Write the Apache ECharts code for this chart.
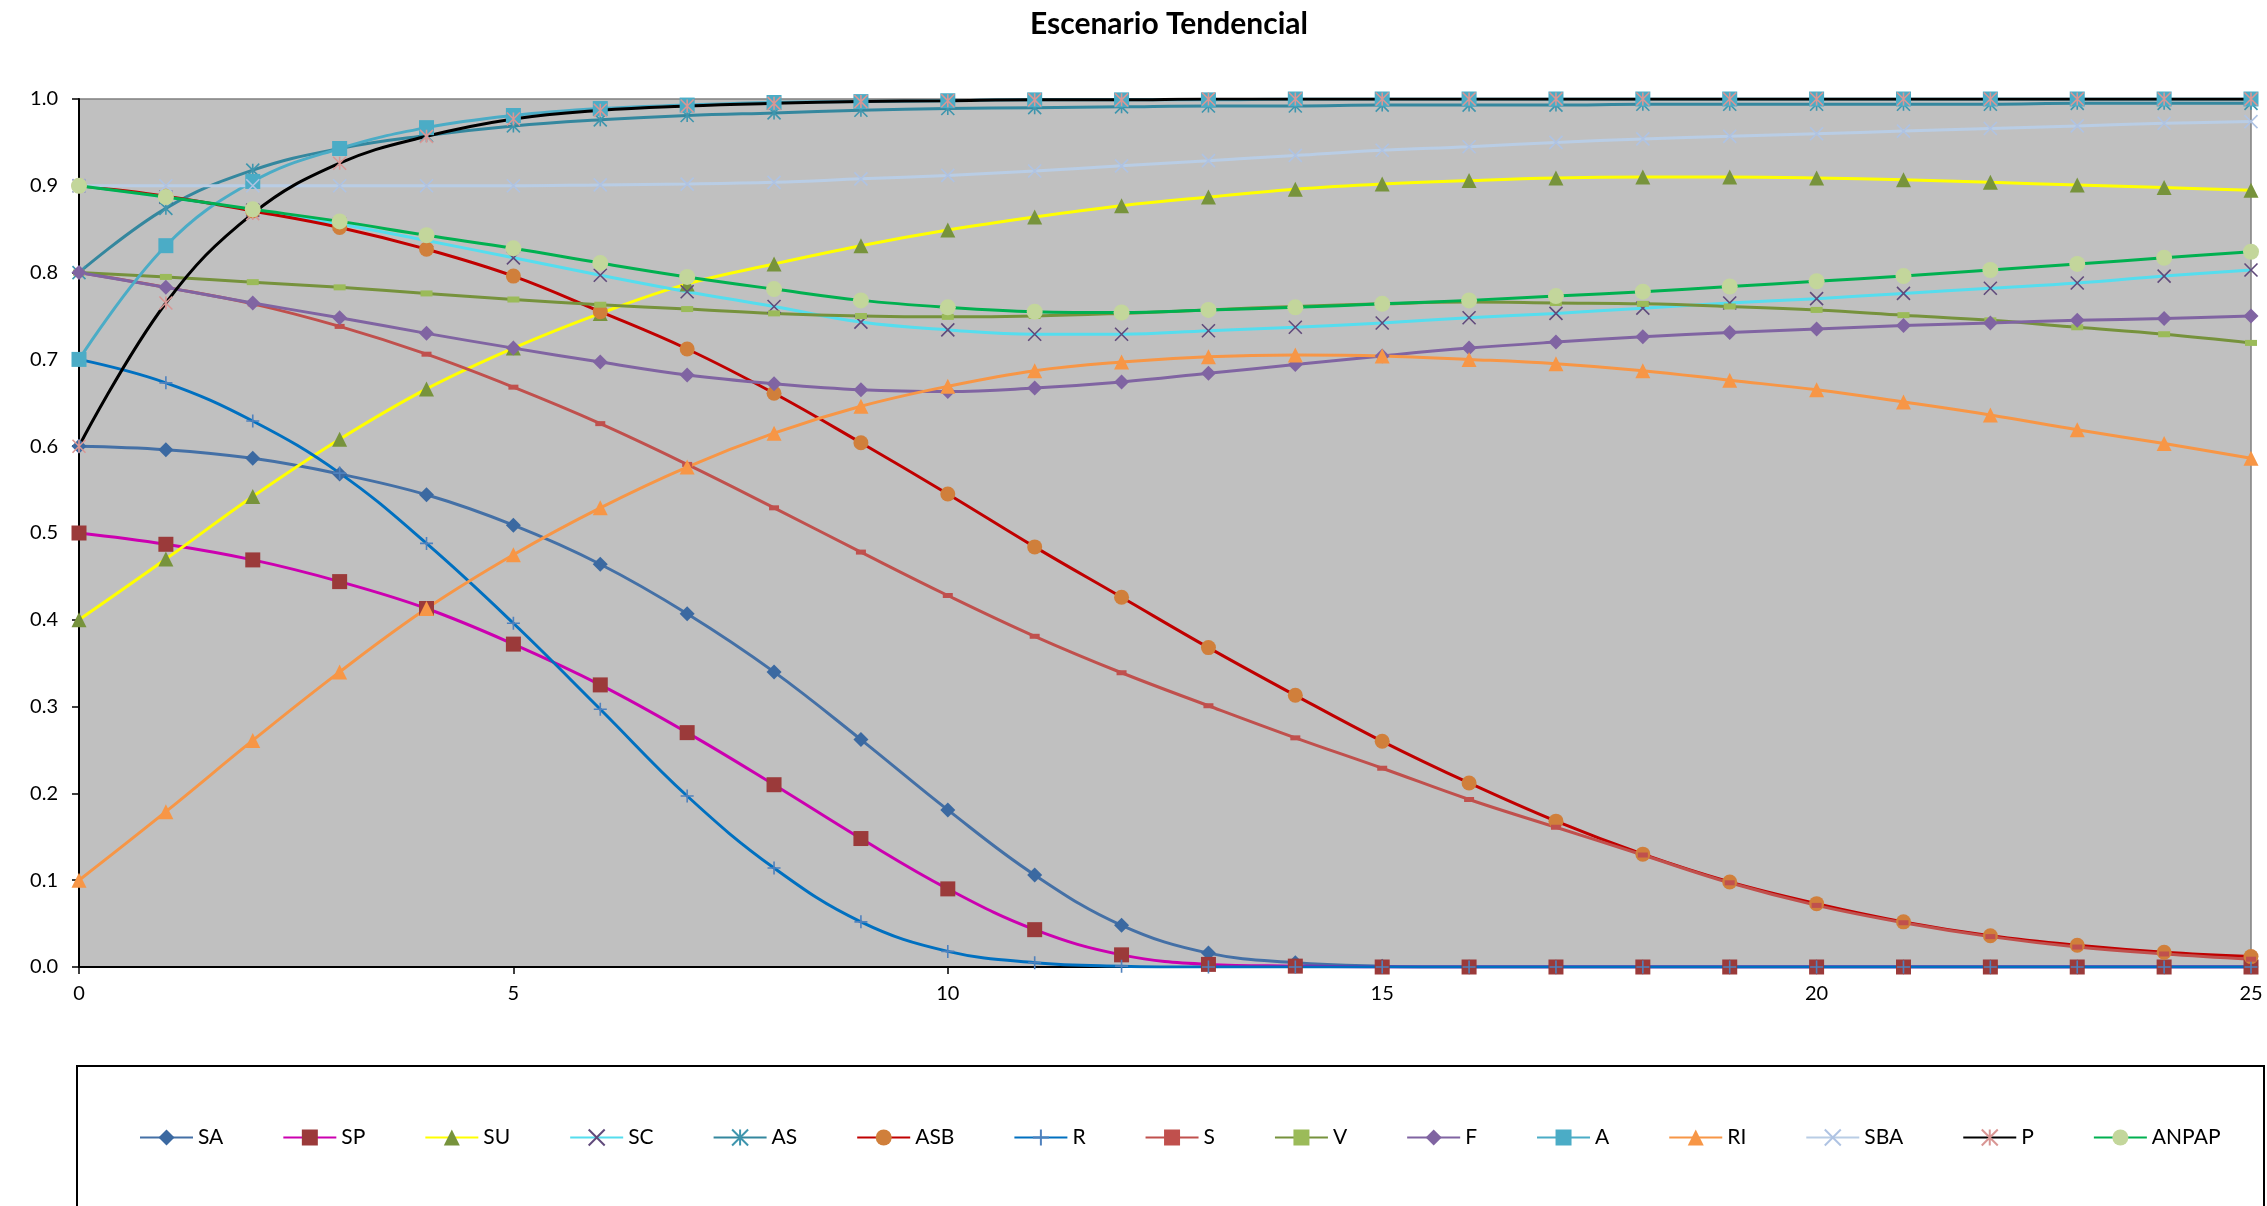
<!DOCTYPE html>
<html>
<head>
<meta charset="utf-8">
<title>Escenario Tendencial</title>
<script src="https://cdn.jsdelivr.net/npm/echarts@6/dist/echarts.min.js"></script>
<style>
  html, body { margin: 0; padding: 0; background: #ffffff; }
  #chart { width: 2267px; height: 1206px; }
</style>
</head>
<body>
<div id="chart"></div>
<script>
// Time steps (horizontal axis)
const steps = [0, 1, 2, 3, 4, 5, 6, 7, 8, 9, 10, 11, 12, 13, 14, 15, 16, 17, 18, 19, 20, 21, 22, 23, 24, 25];

// Series values, one per time step
const SA    = [0.600, 0.596, 0.586, 0.568, 0.544, 0.509, 0.464, 0.407, 0.340, 0.262, 0.181, 0.106, 0.048, 0.016, 0.005, 0.001, 0, 0, 0, 0, 0, 0, 0, 0, 0, 0];
const SP    = [0.500, 0.487, 0.469, 0.444, 0.413, 0.372, 0.325, 0.270, 0.210, 0.148, 0.090, 0.043, 0.014, 0.003, 0.001, 0, 0, 0, 0, 0, 0, 0, 0, 0, 0, 0];
const SU    = [0.400, 0.470, 0.542, 0.608, 0.666, 0.713, 0.753, 0.787, 0.810, 0.831, 0.849, 0.864, 0.877, 0.887, 0.896, 0.902, 0.906, 0.909, 0.910, 0.910, 0.909, 0.907, 0.904, 0.901, 0.898, 0.895];
const SC    = [0.900, 0.887, 0.872, 0.856, 0.837, 0.817, 0.797, 0.778, 0.761, 0.743, 0.734, 0.729, 0.729, 0.733, 0.737, 0.742, 0.748, 0.753, 0.759, 0.765, 0.770, 0.776, 0.782, 0.788, 0.796, 0.803];
const AS    = [0.800, 0.874, 0.918, 0.943, 0.958, 0.969, 0.976, 0.981, 0.984, 0.987, 0.989, 0.990, 0.991, 0.992, 0.992, 0.993, 0.993, 0.993, 0.994, 0.994, 0.994, 0.994, 0.994, 0.995, 0.995, 0.995];
const ASB   = [0.900, 0.888, 0.871, 0.852, 0.827, 0.796, 0.755, 0.712, 0.661, 0.604, 0.545, 0.484, 0.426, 0.368, 0.313, 0.260, 0.212, 0.168, 0.130, 0.098, 0.073, 0.052, 0.036, 0.025, 0.017, 0.012];
const R     = [0.700, 0.673, 0.629, 0.569, 0.488, 0.396, 0.297, 0.197, 0.114, 0.052, 0.018, 0.005, 0.001, 0, 0, 0, 0, 0, 0, 0, 0, 0, 0, 0, 0, 0];
const S     = [0.800, 0.783, 0.764, 0.738, 0.706, 0.668, 0.626, 0.579, 0.529, 0.478, 0.428, 0.381, 0.339, 0.301, 0.264, 0.229, 0.193, 0.161, 0.129, 0.097, 0.071, 0.051, 0.035, 0.023, 0.015, 0.009];
const V     = [0.800, 0.795, 0.789, 0.783, 0.776, 0.769, 0.763, 0.758, 0.753, 0.750, 0.749, 0.750, 0.753, 0.757, 0.761, 0.764, 0.766, 0.765, 0.764, 0.761, 0.757, 0.751, 0.745, 0.737, 0.729, 0.719];
const F     = [0.800, 0.783, 0.765, 0.748, 0.730, 0.713, 0.697, 0.682, 0.672, 0.665, 0.663, 0.667, 0.674, 0.684, 0.694, 0.704, 0.713, 0.720, 0.726, 0.731, 0.735, 0.739, 0.742, 0.745, 0.747, 0.750];
const A     = [0.700, 0.831, 0.905, 0.943, 0.967, 0.981, 0.989, 0.993, 0.996, 0.997, 0.998, 0.999, 0.999, 0.999, 1.000, 1.000, 1.000, 1.000, 1.000, 1.000, 1.000, 1.000, 1.000, 1.000, 1.000, 1.000];
const RI    = [0.100, 0.179, 0.261, 0.340, 0.413, 0.475, 0.529, 0.576, 0.615, 0.646, 0.669, 0.687, 0.697, 0.703, 0.705, 0.704, 0.700, 0.695, 0.687, 0.676, 0.665, 0.651, 0.636, 0.619, 0.603, 0.586];
const SBA   = [0.900, 0.900, 0.900, 0.900, 0.900, 0.900, 0.901, 0.902, 0.904, 0.908, 0.912, 0.917, 0.923, 0.929, 0.935, 0.941, 0.945, 0.950, 0.954, 0.957, 0.960, 0.963, 0.966, 0.969, 0.972, 0.974];
const P     = [0.600, 0.765, 0.868, 0.926, 0.957, 0.977, 0.987, 0.992, 0.995, 0.997, 0.998, 0.999, 0.999, 1.000, 1.000, 1.000, 1.000, 1.000, 1.000, 1.000, 1.000, 1.000, 1.000, 1.000, 1.000, 1.000];
const ANPAP = [0.900, 0.887, 0.873, 0.859, 0.843, 0.828, 0.811, 0.795, 0.781, 0.768, 0.760, 0.755, 0.754, 0.757, 0.760, 0.764, 0.768, 0.773, 0.778, 0.784, 0.790, 0.796, 0.803, 0.810, 0.817, 0.824];

// Axis ticks
const xTicks = [0, 5, 10, 15, 20, 25];
const yTicks = [0.0, 0.1, 0.2, 0.3, 0.4, 0.5, 0.6, 0.7, 0.8, 0.9, 1.0];

// Marker shapes drawn as strokes
const CROSS = 'path://M0,0L10,10M10,0L0,10';
const PLUS = 'path://M5,0L5,10M0,5L10,5';
const STAR = 'path://M0,0L10,10M10,0L0,10M5,0L5,10';

// name, values, line colour, marker shape, marker colour, marker size, stroked marker
const seriesDefs = [
  ['SA', SA, '#4470A6', 'diamond', '#3B69A1', 15, false],
  ['SP', SP, '#CC00B0', 'rect', '#9B3A3A', 15, false],
  ['SU', SU, '#FFFF00', 'triangle', '#77933C', 15, false],
  ['SC', SC, '#55DDEE', CROSS, '#604A7B', 13, true],
  ['AS', AS, '#34879E', STAR, '#3E95AD', 13, true],
  ['ASB', ASB, '#C00000', 'circle', '#D07F3B', 15, false],
  ['R', R, '#0070C0', PLUS, '#4F81BD', 13, true],
  ['S', S, '#C0504D', 'rect', '#C0504D', [10, 5], false],
  ['V', V, '#76923C', 'rect', '#9BBB59', [12, 6], false],
  ['F', F, '#8064A2', 'diamond', '#8064A2', 15, false],
  ['A', A, '#4BACC6', 'rect', '#4BACC6', 15, false],
  ['RI', RI, '#F79646', 'triangle', '#F79646', 15, false],
  ['SBA', SBA, '#B9CDE5', CROSS, '#AFC3E3', 13, true],
  ['P', P, '#000000', STAR, '#D99694', 13, true],
  ['ANPAP', ANPAP, '#00B050', 'circle', '#C3D69B', 16, false]
];

const FONT = 'Lato';

const series = seriesDefs.map(function (d) {
  const vals = d[1];
  return {
    name: d[0],
    type: 'line',
    data: steps.map(function (x, i) { return [x, vals[i]]; }),
    smooth: 0.4,
    showAllSymbol: true,
    symbol: d[3],
    symbolSize: d[5],
    lineStyle: { color: d[2], width: 3 },
    itemStyle: d[6]
      ? { color: d[4], borderColor: d[4], borderWidth: 1.6 }
      : { color: d[4], borderWidth: 0 },
    emphasis: { disabled: true },
    animation: false
  };
});

const chart = echarts.init(document.getElementById('chart'), null, { renderer: 'canvas' });

chart.setOption({
  backgroundColor: '#ffffff',
  animation: false,
  title: {
    text: 'Escenario Tendencial',
    left: 1164,
    textAlign: 'center',
    top: 4,
    textStyle: { fontFamily: FONT, fontSize: 30, fontWeight: 'bold', color: '#000000' }
  },
  grid: {
    left: 79,
    right: 16,
    top: 99,
    bottom: 239,
    show: true,
    backgroundColor: '#C0C0C0',
    borderColor: '#808080',
    borderWidth: 1.5,
    containLabel: false,
    outerBoundsMode: 'none'
  },
  xAxis: {
    type: 'value',
    min: xTicks[0],
    max: xTicks[xTicks.length - 1],
    interval: xTicks[1] - xTicks[0],
    axisLine: { show: true, onZero: false, lineStyle: { color: '#000000', width: 2 } },
    axisTick: { show: true, length: 7, lineStyle: { color: '#000000', width: 1.5 } },
    splitLine: { show: false },
    axisLabel: { fontFamily: FONT, fontSize: 20, color: '#000000', margin: 17 }
  },
  yAxis: {
    type: 'value',
    min: yTicks[0],
    max: yTicks[yTicks.length - 1],
    interval: 0.1,
    axisLine: { show: true, lineStyle: { color: '#000000', width: 2 } },
    axisTick: { show: true, length: 7, lineStyle: { color: '#000000', width: 1.5 } },
    splitLine: { show: false },
    axisLabel: {
      fontFamily: FONT, fontSize: 20, color: '#000000', margin: 21,
      formatter: function (v) { return v.toFixed(1); }
    }
  },
  legend: {
    data: seriesDefs.map(function (d) { return d[0]; }),
    orient: 'horizontal',
    left: 134,
    top: 1122,
    padding: 5,
    itemWidth: 53,
    itemHeight: 20,
    itemGap: 59,
    textStyle: { fontFamily: FONT, fontSize: 21, color: '#000000' }
  },
  graphic: [
    {
      type: 'rect',
      shape: { x: 77, y: 1066, width: 2187, height: 160 },
      style: { fill: 'none', stroke: '#000000', lineWidth: 2 },
      silent: true
    }
  ],
  series: series
});
</script>
</body>
</html>
